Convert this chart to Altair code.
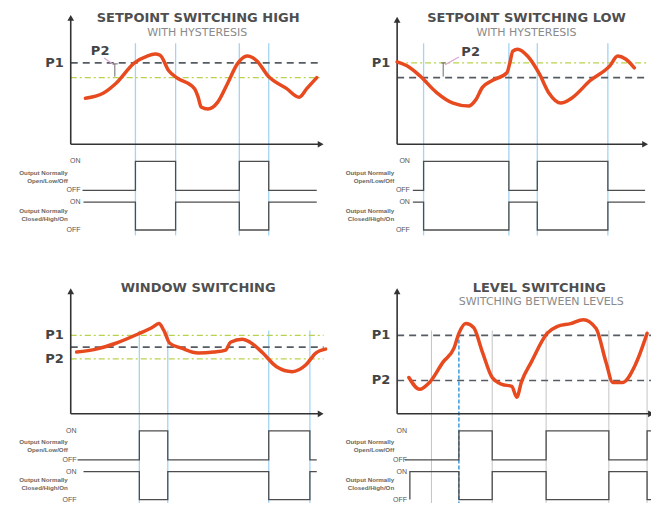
import altair as alt
import pandas as pd

# ---------------- data ----------------
PANELS = ["high", "low", "window", "level"]
# axis origin of each panel (y-axis x position, x-axis y position) in reference pixels
ORIGIN = {"high": (67, 145), "low": (400, 145), "window": (67, 420), "level": (400, 420)}

TITLES = {"high": "SETPOINT SWITCHING HIGH", "low": "SETPOINT SWITCHING LOW",
          "window": "WINDOW SWITCHING", "level": "LEVEL SWITCHING"}
SUBTITLES = {"high": "WITH HYSTERESIS", "low": "WITH HYSTERESIS", "level": "SWITCHING BETWEEN LEVELS"}

# process value curves: time (from y axis) and level (above x axis)
HIGH_T = [15, 33, 46, 65, 78, 86, 91, 100, 108, 126, 130, 133, 140, 150, 160, 170, 180, 190, 201, 220, 233, 241, 251]
HIGH_S = [47, 52, 62, 83, 90, 92, 91, 75, 68, 57, 48, 38, 36, 43, 62, 82, 90, 85, 70, 57, 48, 57, 68]
LOW_T = [0, 10, 23, 40, 57, 73, 80, 87, 97, 112, 115, 118, 123, 133, 145, 155, 167, 178, 197, 217, 225, 233, 242]
LOW_S = [84, 80, 70, 53, 42, 39, 45, 58, 65, 73, 83, 95, 97, 90, 72, 52, 42, 47, 65, 80, 90, 87, 78]
WIN_T = [6, 26, 46, 70, 83, 90, 95, 101, 113, 130, 146, 158, 163, 175, 183, 196, 210, 226, 240, 250, 260]
WIN_S = [63, 66, 72, 82, 88, 92, 85, 72, 67, 62, 63, 65, 73, 76, 73, 62, 48, 43, 50, 62, 66]
LEV_T = [12, 23, 33, 47, 58, 63, 70, 78, 87, 97, 107, 117, 122, 127, 137, 153, 163, 177, 190, 203, 213, 220, 230, 243, 255]
LEV_S = [37, 25, 32, 53, 67, 82, 92, 88, 63, 37, 30, 28, 17, 33, 53, 82, 89, 92, 96, 87, 53, 32, 32, 50, 82]
CURVES = {"high": (HIGH_T, HIGH_S), "low": (LOW_T, LOW_S), "window": (WIN_T, WIN_S), "level": (LEV_T, LEV_S)}

# setpoint lines: (level, style)
LEVELS = {
    "high": [(83, "dash"), (68, "green")],
    "low": [(83, "green"), (68, "dash")],
    "window": [(80, "green"), (68, "dash"), (56, "green")],
    "level": [(80, "dash"), (34, "dash")],
}
LINE_END = {"high": 256, "low": 255, "window": 258, "level": 262}
P_LABELS = {"high": [("P1", 83)], "low": [("P1", 83)],
            "window": [("P1", 80), ("P2", 56)], "level": [("P1", 80), ("P2", 34)]}

# switching instants
SWITCH = {"high": [66, 107, 172, 202], "low": [27, 114, 143, 215],
          "window": [70, 99, 202, 244], "level": [63, 97, 152, 216, 255]}
LEVEL_GRID = [35, 97, 152, 216, 255]
V_TOP = {"high": 103, "low": 103, "window": 85, "level": 85}

# output waveforms: start, end, initial state (1 = ON), extra switches
NO_START = {"high": 12, "low": 16, "window": 7, "level": 8}
NC_START = {"high": 13, "low": 16, "window": 13, "level": 13}
OUT_END = {"high": 251, "low": 253, "window": 251, "level": 259}
NC_INIT = {"high": 1, "low": 1, "window": 1, "level": 0}
NC_EXTRA = {"high": [], "low": [], "window": [], "level": [13]}
LABEL_X = {"high": 10, "low": 13, "window": 6, "level": 10}
AX_TOP = {"high": 132, "low": 130, "window": 128, "level": 128}
AX_LEN = {"high": 258, "low": 256, "window": 258, "level": 262}
TITLE_POS = {"high": (130, -129), "low": (132, -129), "window": (130, -128), "level": (145, -128)}
SUB_POS = {"high": (129, -113), "low": (132, -113), "level": (147, -114)}

NO_ON, NO_OFF, NC_ON, NC_OFF = 17.5, 47, 59, 87.5

# ---------------- tables ----------------
rows = []
for p in PANELS:
    ox, oy = ORIGIN[p]
    for t, s in zip(*CURVES[p]):
        rows.append(dict(panel=p, t=t, gx=ox + t, gy=oy - s))
curve_df = pd.DataFrame(rows)

thr = []
for p in PANELS:
    ox, oy = ORIGIN[p]
    for s, st in LEVELS[p]:
        thr.append(dict(panel=p, style=st, gx=ox, gx2=ox + LINE_END[p], gy=oy - s))
thr_df = pd.DataFrame(thr)

vb, vg, vd = [], [], []
for p in PANELS:
    ox, oy = ORIGIN[p]
    if p == "level":
        for t in LEVEL_GRID:
            vg.append(dict(gx=ox + t, gy=oy - V_TOP[p], gy2=oy + 93))
        vd.append(dict(gx=ox + SWITCH[p][0], gy=oy - V_TOP[p] + 3, gy2=oy + 93))
    else:
        for t in SWITCH[p]:
            vb.append(dict(gx=ox + t, gy=oy - V_TOP[p], gy2=oy + 93))
vb_df, vg_df, vd_df = pd.DataFrame(vb), pd.DataFrame(vg), pd.DataFrame(vd)


def wave(p, kind, t0, t1, init, sw, on_y, off_y):
    ox, oy = ORIGIN[p]
    out = []
    st = init
    pts = [(t0, st)]
    for t in sw:
        pts.append((t, st))
        st = 1 - st
        pts.append((t, st))
    pts.append((t1, st))
    for i, (t, s) in enumerate(pts):
        out.append(dict(panel=p, kind=kind, idx=i, gx=ox + t, gy=oy + (on_y if s else off_y)))
    return out


wv = []
for p in PANELS:
    wv += wave(p, "NO", NO_START[p], OUT_END[p], 0, SWITCH[p], NO_ON, NO_OFF)
    wv += wave(p, "NC", NC_START[p], OUT_END[p], NC_INIT[p], NC_EXTRA[p] + SWITCH[p], NC_ON, NC_OFF)
wave_df = pd.DataFrame(wv)

seg = []
arrows = []
for p in PANELS:
    ox, oy = ORIGIN[p]
    seg.append(dict(gx=ox, gy=oy, gx2=ox, gy2=oy - AX_TOP[p] + 4))
    seg.append(dict(gx=ox, gy=oy, gx2=ox + AX_LEN[p] - 4, gy2=oy))
    arrows.append(dict(gx=ox, gy=oy - AX_TOP[p] + 3, shape="triangle-up"))
    arrows.append(dict(gx=ox + AX_LEN[p] - 3, gy=oy, shape="triangle-right"))
seg_df = pd.DataFrame(seg)
arrow_df = pd.DataFrame(arrows)

# hysteresis brackets
brk_pink, brk_gray = [], []
for p, (a, b, c, d), (vx, vy1, vy2) in [("high", (34, -88, 44, -81), (45, -82, -69)),
                                         ("low", (63, -89, 49, -81), (47, -83, -69))]:
    ox, oy = ORIGIN[p]
    brk_pink.append(dict(gx=ox + a, gy=oy + b, gx2=ox + c, gy2=oy + d))
    brk_gray.append(dict(gx=ox + vx, gy=oy + vy1, gx2=ox + vx, gy2=oy + vy2))
    brk_gray.append(dict(gx=ox + vx - 2, gy=oy + vy1, gx2=ox + vx + 3, gy2=oy + vy1))
pink_df, bgray_df = pd.DataFrame(brk_pink), pd.DataFrame(brk_gray)

title_df = pd.DataFrame([dict(text=TITLES[p], gx=ORIGIN[p][0] + TITLE_POS[p][0],
                              gy=ORIGIN[p][1] + TITLE_POS[p][1]) for p in PANELS])
sub_df = pd.DataFrame([dict(text=SUBTITLES[p], gx=ORIGIN[p][0] + SUB_POS[p][0],
                            gy=ORIGIN[p][1] + SUB_POS[p][1]) for p in SUB_POS])
pl = []
for p in PANELS:
    ox, oy = ORIGIN[p]
    for lab, s in P_LABELS[p]:
        pl.append(dict(text=lab, gx=ox - 7, gy=oy - s))
pl.append(dict(text="P2", gx=ORIGIN["high"][0] + 30, gy=ORIGIN["high"][1] - 95, al="c"))
pl.append(dict(text="P2", gx=ORIGIN["low"][0] + 75, gy=ORIGIN["low"][1] - 94, al="c"))
pl_df = pd.DataFrame(pl)
plr_df = pl_df[pl_df["al"] != "c"]
plc_df = pl_df[pl_df["al"] == "c"]

oo, sm = [], []
for p in PANELS:
    ox, oy = ORIGIN[p]
    lx = ox + LABEL_X[p]
    for txt, y in [("ON", NO_ON), ("OFF", NO_OFF), ("ON", NC_ON), ("OFF", NC_OFF)]:
        oo.append(dict(text=txt, gx=lx, gy=oy + y))
    for txt, y in [("Output Normally", 29), ("Open/Low/Off", 37),
                   ("Output Normally", 68), ("Closed/High/On", 76)]:
        sm.append(dict(text=txt, gx=ox - 3, gy=oy + y))
oo_df, sm_df = pd.DataFrame(oo), pd.DataFrame(sm)

# ---------------- chart ----------------
XS = alt.Scale(domain=[3, 659], nice=False, zero=False)
YS = alt.Scale(domain=[6, 511], nice=False, zero=False, reverse=True)
X = alt.X("gx:Q", scale=XS, axis=None)
Y = alt.Y("gy:Q", scale=YS, axis=None)
X2 = alt.X2("gx2:Q")
Y2 = alt.Y2("gy2:Q")

FONT = "DejaVu Sans"

layers = []
layers.append(alt.Chart(vg_df).mark_rule(color="#c4c4c4", strokeWidth=1).encode(x=X, y=Y, y2=Y2))
layers.append(alt.Chart(vb_df).mark_rule(color="#a3d4f3", strokeWidth=1.3).encode(x=X, y=Y, y2=Y2))
layers.append(alt.Chart(vd_df).mark_rule(color="#3a9be0", strokeWidth=1.5, strokeDash=[4, 2]).encode(x=X, y=Y, y2=Y2))
layers.append(alt.Chart(thr_df[thr_df["style"] == "green"]).mark_rule(
    color="#b9d24e", strokeWidth=1.2, strokeDash=[6, 3, 2, 3]).encode(x=X, x2=X2, y=Y))
layers.append(alt.Chart(thr_df[thr_df["style"] == "dash"]).mark_rule(
    color="#565c63", strokeWidth=1.7, strokeDash=[7, 5]).encode(x=X, x2=X2, y=Y))
layers.append(alt.Chart(seg_df).mark_rule(color="#333333", strokeWidth=1.6).encode(x=X, x2=X2, y=Y, y2=Y2))
layers.append(alt.Chart(arrow_df).mark_point(filled=True, color="#333333", size=45, opacity=1).encode(
    x=X, y=Y, shape=alt.Shape("shape:N", scale=None, legend=None)))
layers.append(alt.Chart(wave_df).mark_line(color="#4d4d4d", strokeWidth=1.3).encode(
    x=X, y=Y, detail=["panel:N", "kind:N"], order="idx:Q"))
layers.append(alt.Chart(pink_df).mark_rule(color="#d9a6d6", strokeWidth=1.2).encode(x=X, x2=X2, y=Y, y2=Y2))
layers.append(alt.Chart(bgray_df).mark_rule(color="#6a6a6a", strokeWidth=1).encode(x=X, x2=X2, y=Y, y2=Y2))
layers.append(alt.Chart(curve_df).mark_line(color="#e84a1f", strokeWidth=3.5, interpolate="monotone",
                                            strokeCap="round", strokeJoin="round").encode(
    x=X, y=Y, detail="panel:N", order="t:Q"))
layers.append(alt.Chart(title_df).mark_text(font=FONT, fontSize=13, fontWeight="bold", color="#4f4f4f",
                                            align="center", baseline="middle").encode(x=X, y=Y, text="text:N"))
layers.append(alt.Chart(sub_df).mark_text(font=FONT, fontSize=11, color="#8a8a8a",
                                          align="center", baseline="middle").encode(x=X, y=Y, text="text:N"))
layers.append(alt.Chart(plr_df).mark_text(font=FONT, fontSize=13, fontWeight="bold", color="#444444",
                                          align="right", baseline="middle").encode(x=X, y=Y, text="text:N"))
layers.append(alt.Chart(plc_df).mark_text(font=FONT, fontSize=13, fontWeight="bold", color="#444444",
                                          align="center", baseline="middle").encode(x=X, y=Y, text="text:N"))
layers.append(alt.Chart(oo_df).mark_text(font="Liberation Sans", fontSize=7, color="#555555",
                                         align="right", baseline="middle").encode(x=X, y=Y, text="text:N"))
layers.append(alt.Chart(sm_df).mark_text(font="Liberation Sans", fontSize=6.2, fontWeight="bold",
                                         color="#666666", align="right", baseline="middle").encode(
    x=X, y=Y, text="text:N"))

chart = alt.layer(*layers).properties(
    width=643, height=495, padding=0,
    autosize=alt.AutoSizeParams(type="none"),
    background="white",
).configure_view(stroke=None)

chart.save("out.html", embed_options={"renderer": "svg", "actions": False})
